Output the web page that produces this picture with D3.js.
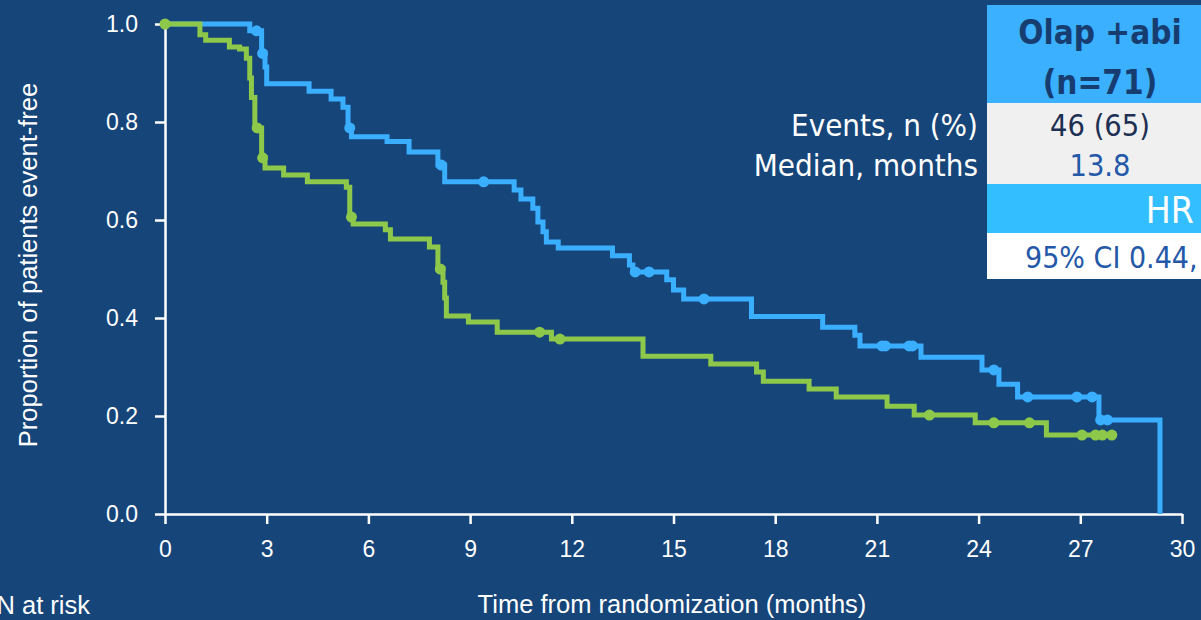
<!DOCTYPE html>
<html>
<head>
<meta charset="utf-8">
<script src="https://cdn.jsdelivr.net/npm/d3@7"></script>
<style>
  html, body { margin: 0; padding: 0; background: #16457a; overflow: hidden; }
  svg { display: block; }
  .axis text { font-family: "Liberation Sans", Arial, sans-serif; font-size: 23px; fill: #fff; }
  .axis path, .axis line { stroke: #fff; stroke-width: 2.5; }
  .tbl { font-family: "DejaVu Sans Condensed", "DejaVu Sans", sans-serif; font-stretch: condensed; }
</style>
</head>
<body>
<div id="chart"></div>
<script>
// KM curve, olaparib + abiraterone (blue): step times and survival after the step
const blueTimes = [0, 2.5, 2.85, 2.95, 3.0, 4.25, 4.9, 5.25, 5.4, 5.5, 6.55, 7.2, 8.05, 8.25,
  10.3, 10.5, 10.85, 11.0, 11.15, 11.25, 11.6, 13.2, 13.7, 13.8, 14.8, 15.0, 15.3, 17.3,
  19.4, 20.35, 20.5, 22.3, 24.1, 24.6, 25.15, 27.55, 29.35];
const blueSurv = [1.0, 0.986, 0.94, 0.912, 0.878, 0.863, 0.847, 0.83, 0.788, 0.77, 0.76, 0.739, 0.712, 0.678,
  0.661, 0.643, 0.624, 0.596, 0.576, 0.555, 0.543, 0.527, 0.508, 0.494, 0.478, 0.457, 0.439, 0.403,
  0.381, 0.365, 0.343, 0.32, 0.294, 0.265, 0.239, 0.192, 0.0];
const blueCensor = [2.7, 2.88, 5.45, 8.15, 9.4, 13.87, 14.28, 15.9, 21.15, 21.25, 21.95, 22.05,
  24.45, 25.45, 26.9, 27.35, 27.6, 27.8];

// KM curve, comparator arm (green)
const greenTimes = [0, 1.03, 1.2, 1.9, 2.2, 2.4, 2.5, 2.55, 2.65, 2.85, 2.95, 3.5, 4.2, 5.35,
  5.45, 5.55, 6.5, 6.65, 7.8, 8.05, 8.2, 8.25, 8.3, 8.95, 9.8, 11.4, 14.1, 16.1, 17.45,
  17.65, 19.0, 19.8, 21.3, 22.1, 23.9, 26.0, 27.93];
const greenSurv = [1.0, 0.978, 0.967, 0.953, 0.949, 0.93, 0.89, 0.85, 0.788, 0.727, 0.706, 0.692, 0.678, 0.667,
  0.606, 0.592, 0.58, 0.561, 0.545, 0.5, 0.473, 0.441, 0.404, 0.392, 0.371, 0.357, 0.322, 0.306, 0.29,
  0.271, 0.255, 0.239, 0.22, 0.202, 0.186, 0.161, 0.161];
const greenCensor = [0, 2.72, 2.88, 5.5, 8.12, 11.05, 11.65, 22.55, 24.45, 25.5, 27.05, 27.45, 27.65, 27.93];

const xTicks = [0, 3, 6, 9, 12, 15, 18, 21, 24, 27, 30];
const yTicks = [0, 0.2, 0.4, 0.6, 0.8, 1.0];

const tableHeader = ["Olap +abi", "(n=71)"];
const rowLabels = ["Events, n (%)", "Median, months"];
const rowValues = ["46 (65)", "13.8"];
const hrLabel = "HR";
const ciText = "95% CI 0.44,";

const W = 1201, H = 620;
const svg = d3.select("#chart").append("svg").attr("width", W).attr("height", H);
svg.append("rect").attr("width", W).attr("height", H).attr("fill", "#16457a");

const x = d3.scaleLinear().domain([0, 30]).range([165, 1182]);
const y = d3.scaleLinear().domain([0, 1]).range([514, 24]);

// axes
svg.append("g").attr("class", "axis")
  .attr("transform", "translate(0,514)")
  .call(d3.axisBottom(x).tickValues(xTicks).tickSize(10).tickSizeOuter(0).tickPadding(17));
svg.append("g").attr("class", "axis")
  .attr("transform", "translate(165,0)")
  .call(d3.axisLeft(y).tickValues(yTicks).tickFormat(d3.format(".1f")).tickSize(10).tickSizeOuter(0).tickPadding(17));

svg.append("text")
  .attr("x", 672).attr("y", 613).attr("text-anchor", "middle")
  .style("font-family", "Liberation Sans, Arial, sans-serif").style("font-size", "25.5px").attr("fill", "#fff")
  .text("Time from randomization (months)");
svg.append("text")
  .attr("transform", "translate(37,265) rotate(-90)").attr("text-anchor", "middle")
  .style("font-family", "Liberation Sans, Arial, sans-serif").style("font-size", "25.5px").attr("fill", "#fff")
  .text("Proportion of patients event-free");
svg.append("text")
  .attr("x", 90).attr("y", 614).attr("text-anchor", "end")
  .style("font-family", "Liberation Sans, Arial, sans-serif").style("font-size", "25.5px").attr("fill", "#fff")
  .text("N at risk");

// curves
const stepLine = d3.line().curve(d3.curveStepAfter).x(d => x(d[0])).y(d => y(d[1]));
function survAt(times, surv, t) {
  const i = d3.bisectRight(times, t) - 1;
  return surv[Math.max(0, i)];
}

const arms = [
  {times: blueTimes, surv: blueSurv, censor: blueCensor, color: "#3aaeff"},
  {times: greenTimes, surv: greenSurv, censor: greenCensor, color: "#8dc84a"}
];
arms.forEach(function(a) {
  svg.append("path")
    .datum(d3.zip(a.times, a.surv))
    .attr("d", stepLine)
    .attr("fill", "none")
    .attr("stroke", a.color)
    .attr("stroke-width", 5);
  svg.selectAll(null)
    .data(a.censor)
    .enter().append("circle")
      .attr("cx", d => x(d))
      .attr("cy", d => y(survAt(a.times, a.surv, d)))
      .attr("r", 5.5)
      .attr("fill", a.color);
});

// summary table (cut by the right edge as in the slide)
const tx = 987;
svg.append("rect").attr("x", tx).attr("y", 5).attr("width", W - tx).attr("height", 98).attr("fill", "#3ab0ff");
svg.append("rect").attr("x", tx).attr("y", 103).attr("width", W - tx).attr("height", 81).attr("fill", "#f0f0f0");
svg.append("rect").attr("x", tx).attr("y", 184).attr("width", W - tx).attr("height", 49).attr("fill", "#33beff");
svg.append("rect").attr("x", tx).attr("y", 233).attr("width", W - tx).attr("height", 46).attr("fill", "#ffffff");

const tbl = svg.append("g").attr("class", "tbl");
tbl.selectAll(".hdr").data(tableHeader).enter().append("text")
  .attr("x", 1100).attr("y", (d, i) => 44 + i * 50)
  .attr("text-anchor", "middle").style("font-size", "33px").style("font-weight", "bold")
  .attr("fill", "#173d70").text(d => d);
tbl.selectAll(".lbl").data(rowLabels).enter().append("text")
  .attr("x", 978).attr("y", (d, i) => 136 + i * 40)
  .attr("text-anchor", "end").style("font-size", "31px")
  .attr("fill", "#fff").text(d => d);
tbl.selectAll(".val").data(rowValues).enter().append("text")
  .attr("x", 1100).attr("y", (d, i) => 136 + i * 40)
  .attr("text-anchor", "middle").style("font-size", "30.5px")
  .attr("fill", (d, i) => i === 0 ? "#1d2f52" : "#2458a8").text(d => d);
tbl.append("text").attr("x", 1194).attr("y", 223).attr("text-anchor", "end")
  .style("font-size", "37px").attr("fill", "#fff").text(hrLabel);
tbl.append("text").attr("x", 1025).attr("y", 268)
  .style("font-size", "30px").attr("fill", "#2458a8").text(ciText);
</script>
</body>
</html>
